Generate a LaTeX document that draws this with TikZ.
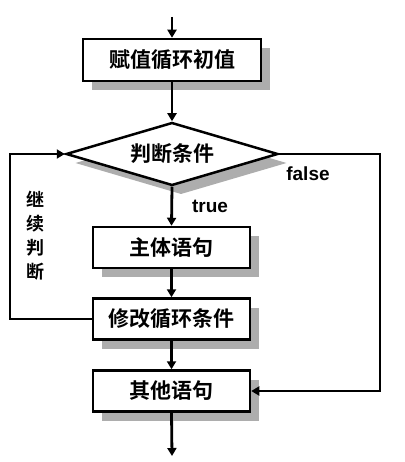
\documentclass[tikz,border=0pt]{standalone}
\usepackage{fontspec}
\newfontfamily\cjk{Noto Sans CJK SC}[BoldFont={Noto Sans CJK SC Bold}]
\setmainfont{Liberation Sans}
\usetikzlibrary{shapes.geometric,shadows,arrows.meta}
\begin{document}
\begin{tikzpicture}[x=1pt,y=-1pt,
  shad/.style={drop shadow={shadow xshift=9pt,shadow yshift=-9pt,fill=black!32,opacity=1}},
  procbox/.style={draw=black,line width=2.5pt,fill=white,shad,minimum width=157pt,minimum height=41pt,inner sep=0pt,font=\cjk\bfseries\fontsize{21}{23}\selectfont},
  decbox/.style={diamond,draw=black,line width=2.5pt,fill=white,shad,minimum width=212pt,minimum height=63pt,aspect=3.37,inner sep=0pt,font=\cjk\bfseries\fontsize{21}{23}\selectfont},
  conn/.style={line width=2.8pt,-{Triangle[length=8pt,width=9pt]}},
  lbl/.style={font=\bfseries\fontsize{19}{21}\selectfont}]
\useasboundingbox (0,0) rectangle (404,462);
\fill[white] (0,0) rectangle (404,462);
\coordinate (top) at (172,17);
\coordinate (bot) at (172,456);
\node[procbox,minimum width=178pt,minimum height=42pt] (b1) at (172,60) {赋值循环初值};
\node[decbox] (d) at (172,154) {判断条件};
\node[procbox] (b3) at (171.5,247.5) {主体语句};
\node[procbox] (b4) at (171.5,319) {修改循环条件};
\node[procbox] (b5) at (171.5,391) {其他语句};
\coordinate (lc) at (10,319);
\coordinate (lt) at (10,154);
\coordinate (rc) at (380,154);
\coordinate (rb) at (380,391);
\draw[conn] (top) -- (b1.north);
\draw[conn] (b1.south) -- (d.north);
\draw[conn] (d.south) -- (b3.north);
\draw[conn] (b3.south) -- (b4.north);
\draw[conn] (b4.south) -- (b5.north);
\draw[conn] (b5.south) -- (bot);
\draw[conn] (b4.west) -- (lc) -- (lt) -- (d.west);
\draw[conn] (d.east) -- (rc) -- (rb) -- (b5.east);
\node[lbl] (tl) at (210,206) {true};
\node[lbl] (fl) at (308,174) {false};
\node[font=\cjk\bfseries\fontsize{18}{24}\selectfont,align=center] (jx) at (35,236) {继\\续\\判\\断};
\end{tikzpicture}
\end{document}
